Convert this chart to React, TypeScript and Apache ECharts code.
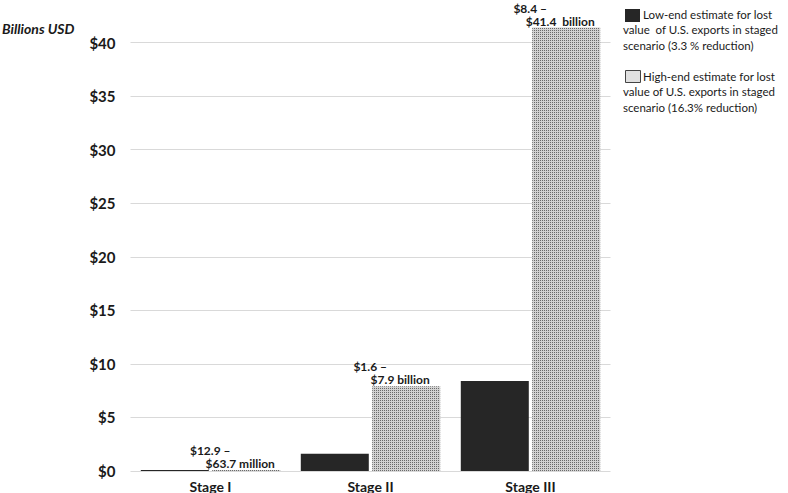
import React, { useEffect, useRef } from "react";
import * as echarts from "echarts";

const categories = ["Stage I", "Stage II", "Stage III"];
const lowEnd = [0.0129, 1.6, 8.4];
const highEnd = [0.0637, 7.9, 41.4];
const labelTop = ["$12.9 –", "$1.6 –", "$8.4 –"];
const labelBottom = ["$63.7 million", "$7.9 billion", "$41.4  billion"];
const legendLow = ["Low-end estimate for lost", "value  of U.S. exports in staged", "scenario (3.3 % reduction)"];
const legendHigh = ["High-end estimate for lost", "value of U.S. exports in staged", "scenario (16.3% reduction)"];

function makePattern(): string {
  const c = document.createElement("canvas");
  c.width = 2;
  c.height = 2;
  const ctx = c.getContext("2d")!;
  ctx.fillStyle = "#d2d2d2";
  ctx.fillRect(0, 0, 2, 2);
  ctx.fillStyle = "#6a6a6a";
  ctx.fillRect(0, 0, 1, 1);
  return c.toDataURL();
}

export default function App() {
  const ref = useRef<HTMLDivElement>(null);
  useEffect(() => {
    if (!ref.current) return;
    const chart = echarts.init(ref.current, undefined, { renderer: "svg" });
    const pattern = makePattern();
    const font = "Lato, 'Open Sans', sans-serif";
    const legendText = (lines: string[], y0: number) =>
      lines.map((t, i) => ({
        type: "text",
        left: i === 0 ? 643 : 623,
        top: y0 + i * 15.5,
        style: { text: t, font: `11.5px ${font}`, fill: "#1a1a1a" },
      }));
    chart.setOption({
      animation: false,
      textStyle: { fontFamily: font },
      grid: { left: 130.5, right: 177.5, top: 42.5, bottom: 21 },
      xAxis: {
        type: "category",
        data: categories,
        axisLine: { show: false },
        axisTick: { show: false },
        axisLabel: { fontSize: 14, fontWeight: "bold", color: "#1a1a1a", margin: 8 },
      },
      yAxis: {
        type: "value",
        min: 0,
        max: 40,
        interval: 5,
        axisLine: { show: false },
        axisTick: { show: false },
        splitLine: { lineStyle: { color: "#d9d9d9" } },
        axisLabel: {
          fontSize: 15,
          fontWeight: "bold",
          color: "#1a1a1a",
          margin: 15,
          formatter: (v: number) => "$" + v,
        },
      },
      series: [
        {
          name: "low",
          type: "bar",
          data: lowEnd,
          barWidth: 68,
          barGap: "5%",
          barMinHeight: 1,
          itemStyle: { color: "#262626" },
        },
        {
          name: "high",
          type: "bar",
          data: highEnd,
          barWidth: 68,
          barMinHeight: 1,
          clip: false,
          itemStyle: {
            color: { image: pattern, repeat: "repeat", imageWidth: 2, imageHeight: 2 },
          },
          label: {
            show: true,
            position: "top",
            distance: 0,
            offset: [-6, 0],
            formatter: (p: any) => `{a|${labelTop[p.dataIndex]}}\n{b|${labelBottom[p.dataIndex]}}`,
            rich: {
              a: { fontSize: 12, fontWeight: "bold", color: "#1a1a1a", lineHeight: 13, padding: [0, 60, 0, 0] },
              b: { fontSize: 12, fontWeight: "bold", color: "#1a1a1a", lineHeight: 13 },
            },
          },
        },
      ],
      graphic: [
        {
          type: "text",
          left: 2,
          top: 21,
          style: { text: "Billions USD", font: `italic bold 14px ${font}`, fill: "#1a1a1a" },
        },
        { type: "rect", shape: { x: 625, y: 9, width: 15, height: 13 }, style: { fill: "#262626" } },
        ...legendText(legendLow, 8),
        {
          type: "rect",
          shape: { x: 625.5, y: 70.5, width: 15, height: 12 },
          style: { fill: "#e0e0e0", stroke: "#444", lineWidth: 1 },
        },
        ...legendText(legendHigh, 70),
      ],
    });
    return () => chart.dispose();
  }, []);
  return <div ref={ref} style={{ position: "absolute", left: 0, top: 0, width: 788, height: 493 }} />;
}
